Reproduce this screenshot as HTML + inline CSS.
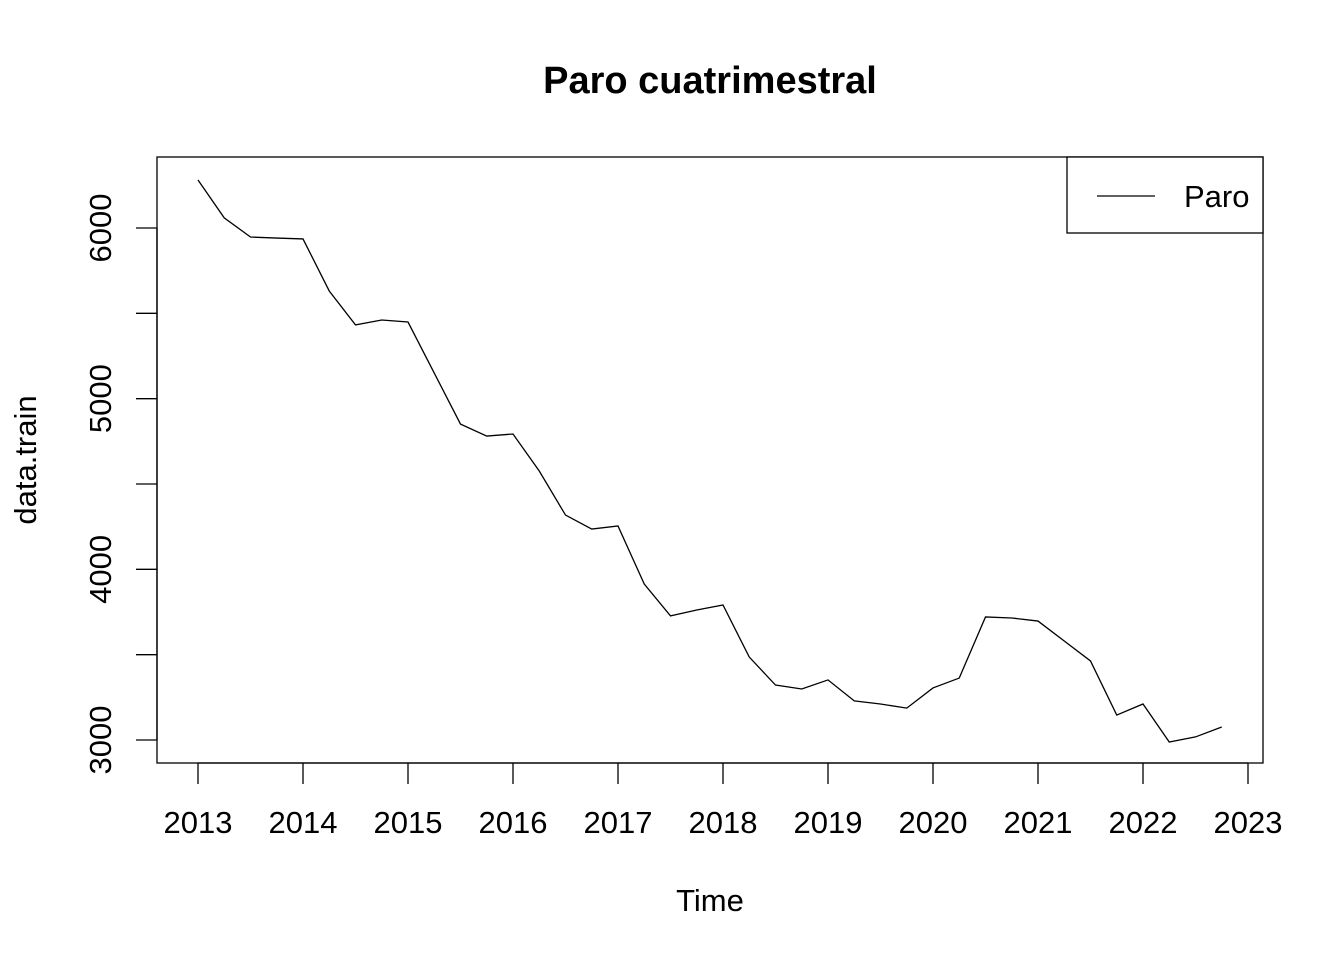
<!DOCTYPE html>
<html><head><meta charset="utf-8"><style>
body{margin:0;background:#fff}
svg text{font-family:"Liberation Sans",Arial,sans-serif;fill:#000}
</style></head><body>
<svg width="1344" height="960" viewBox="0 0 1344 960">
<text x="710" y="93" text-anchor="middle" font-size="38" font-weight="bold">Paro cuatrimestral</text>
<rect x="157" y="157" width="1106" height="606" fill="none" stroke="#000" stroke-width="1.3"/>
<g id="xaxis"></g>
<g id="yaxis"></g>
<path id="line" fill="none" stroke="#000" stroke-width="1.3"/>
<text x="710" y="911" text-anchor="middle" font-size="31">Time</text>
<text transform="translate(36,460) rotate(-90)" text-anchor="middle" font-size="31">data.train</text>
<g>
<rect x="1067" y="157" width="196" height="76" fill="#fff" stroke="#000" stroke-width="1.3"/>
<line x1="1097" y1="196" x2="1155" y2="196" stroke="#000" stroke-width="1.3"/>
<text x="1184" y="207" font-size="31">Paro</text>
</g>
</svg>
<script>
const startYear = 2013;
const values = [6281,6059,5947,5941,5936,5631,5432,5461,5449,5150,4851,4781,4793,4576,4318,4236,4254,3914,3727,3762,3791,3486,3322,3299,3352,3229,3211,3187,3305,3363,3721,3715,3697,3580,3463,3146,3211,2988,3018,3076];
const xTicks = [2013,2014,2015,2016,2017,2018,2019,2020,2021,2022,2023];
const yTicks = [3000,3500,4000,4500,5000,5500,6000];
const yLabels = [3000,4000,5000,6000];
const NS="http://www.w3.org/2000/svg";
const xs = t => 198 + (t-2013)*105;
const ys = v => 740 - (v-3000)*512/3000;
let d="";
values.forEach((v,i)=>{d+=(i?"L":"M")+xs(startYear+i*0.25)+","+ys(v);});
document.getElementById("line").setAttribute("d",d);
const xa=document.getElementById("xaxis");
const l0=document.createElementNS(NS,"line");
l0.setAttribute("x1",xs(2013));l0.setAttribute("x2",xs(2023));l0.setAttribute("y1",763);l0.setAttribute("y2",763);l0.setAttribute("stroke","#000");l0.setAttribute("stroke-width","1.3");
xa.appendChild(l0);
xTicks.forEach(t=>{
 const l=document.createElementNS(NS,"line");
 
 
 l.setAttribute("x1",xs(t));l.setAttribute("x2",xs(t));l.setAttribute("y1",763);l.setAttribute("y2",784);l.setAttribute("stroke","#000");l.setAttribute("stroke-width","1.3");
 xa.appendChild(l);
 const tx=document.createElementNS(NS,"text");
 
 
 tx.setAttribute("x",xs(t));tx.setAttribute("y",833);tx.setAttribute("text-anchor","middle");tx.setAttribute("font-size","31");
 tx.textContent=t;xa.appendChild(tx);
});
const ya=document.getElementById("yaxis");
const l1=document.createElementNS(NS,"line");
l1.setAttribute("x1",157);l1.setAttribute("x2",157);l1.setAttribute("y1",ys(3000));l1.setAttribute("y2",ys(6000));l1.setAttribute("stroke","#000");l1.setAttribute("stroke-width","1.3");
ya.appendChild(l1);
yTicks.forEach(v=>{
 const l=document.createElementNS(NS,"line");
 
 
 l.setAttribute("x1",136);l.setAttribute("x2",157);l.setAttribute("y1",ys(v));l.setAttribute("y2",ys(v));l.setAttribute("stroke","#000");l.setAttribute("stroke-width","1.3");
 ya.appendChild(l);
});
yLabels.forEach(v=>{
 const tx=document.createElementNS(NS,"text");
 
 
 tx.setAttribute("transform","translate(111,"+ys(v)+") rotate(-90)");tx.setAttribute("text-anchor","middle");tx.setAttribute("font-size","31");
 tx.textContent=v;ya.appendChild(tx);
});
</script>
</body></html>
